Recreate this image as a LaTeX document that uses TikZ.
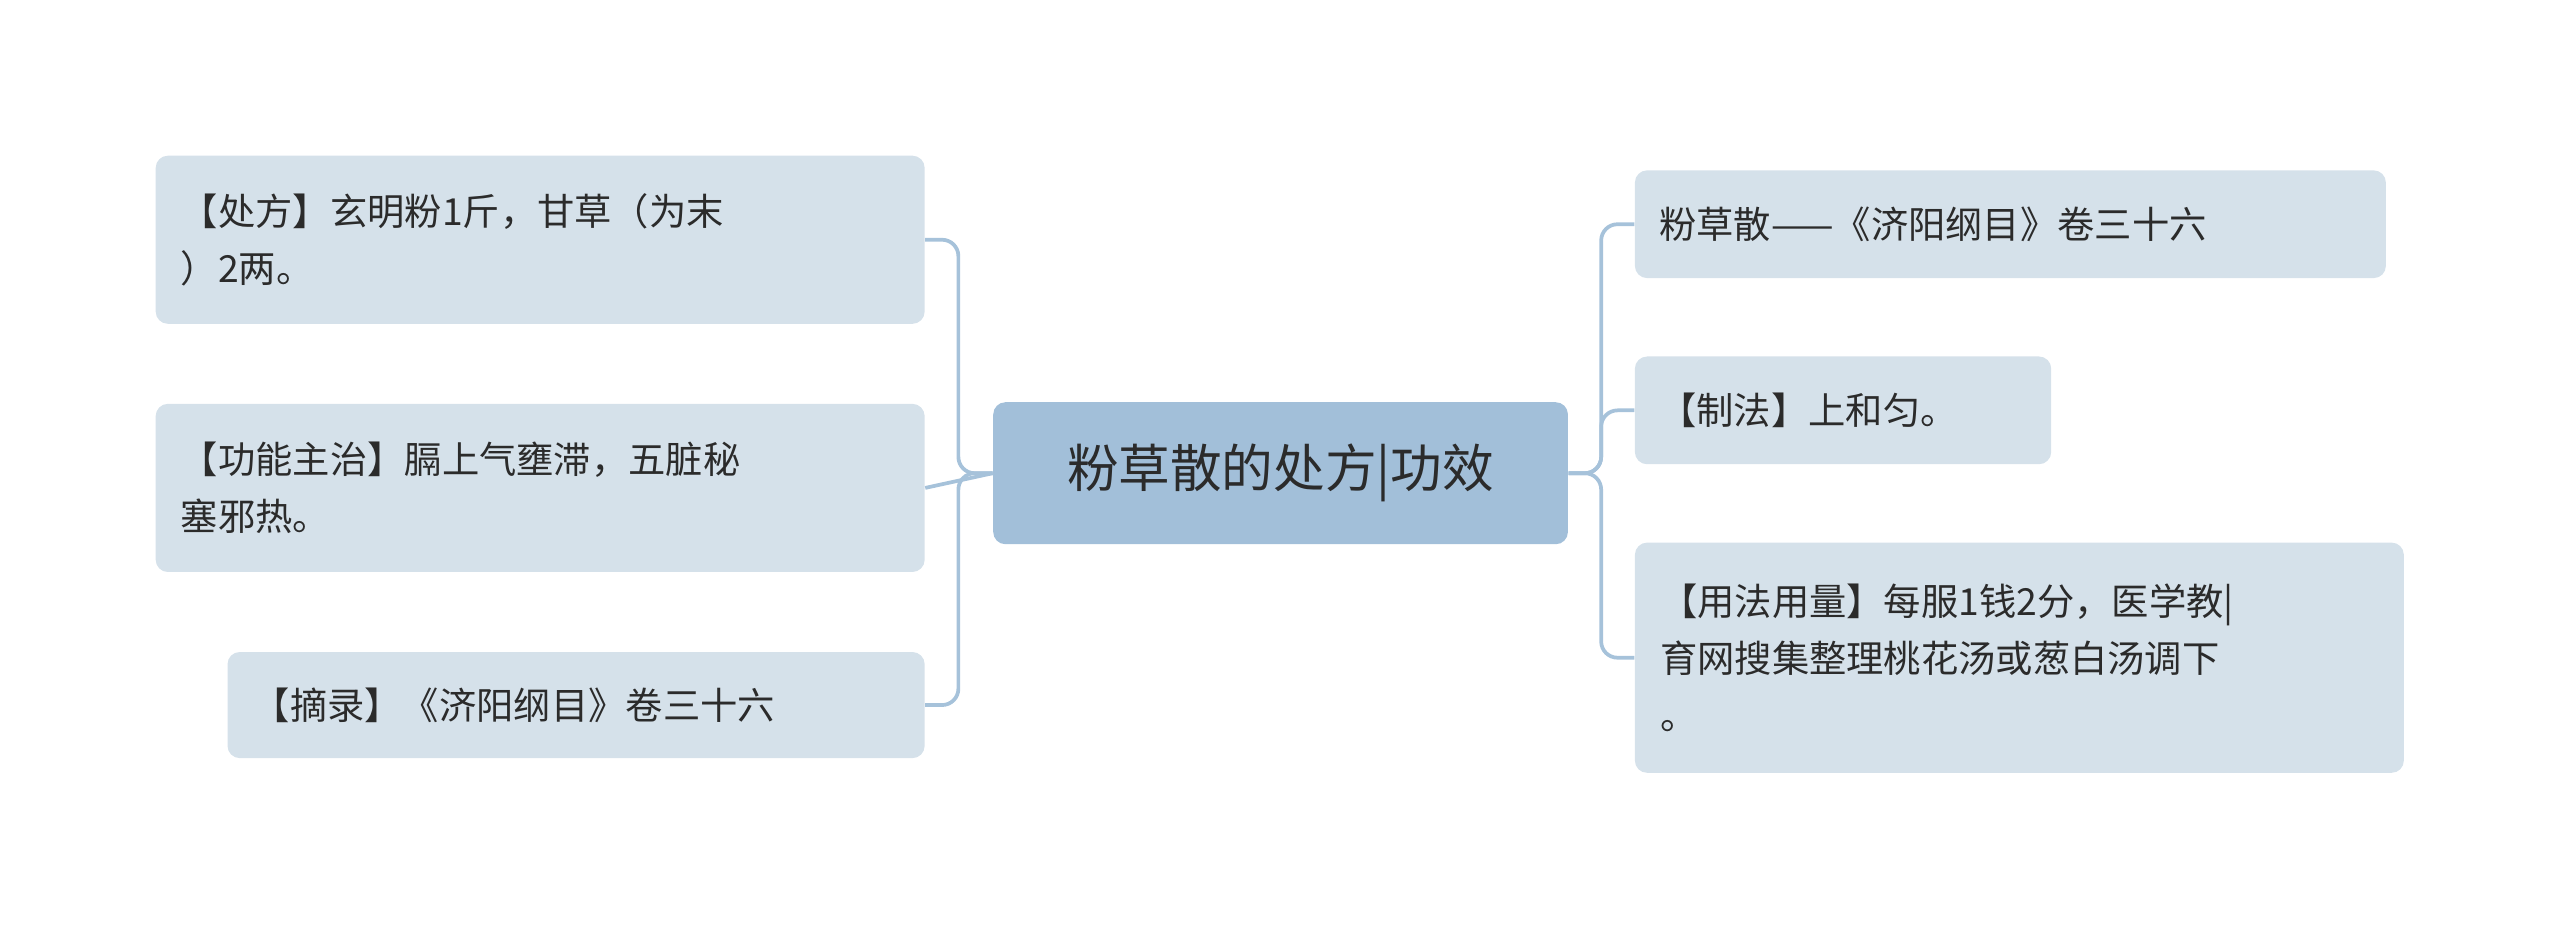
\documentclass[tikz,border=0pt]{standalone}
\usepackage{fontspec}
\newfontfamily\cjk{Noto Sans CJK SC}
\usetikzlibrary{positioning}
\definecolor{leaffill}{HTML}{D5E1EA}
\definecolor{rootfill}{HTML}{A2BFD9}
\definecolor{linkcol}{HTML}{A6C2DA}
\definecolor{txtcol}{HTML}{2B2B2B}
\tikzset{
  leaf/.style={fill=leaffill,rounded corners=0.15cm,anchor=north west,align=left,
    inner sep=0pt,text=txtcol,font=\cjk\fontsize{13}{20}\selectfont},
  root/.style={fill=rootfill,rounded corners=0.15cm,anchor=north west,
    inner sep=0pt,text=txtcol,font=\cjk\fontsize{18}{22}\selectfont},
  link/.style={draw=linkcol,line width=1.3pt,rounded corners=0.2cm}
}
\begin{document}
\begin{tikzpicture}[x=0.02cm,y=0.02cm]
    \useasboundingbox (0,0) rectangle (1568,-570);
    % centre
    \node[root,minimum width=352*0.02cm,minimum height=87*0.02cm] (c) at (608,-246) {粉草散的处方|功效};
    % left side
    \node[leaf,minimum width=471*0.02cm,minimum height=103*0.02cm,text width=440*0.02cm] (l1) at (95,-95) {【处方】玄明粉1斤，甘草（为末\\）2两。};
    \node[leaf,minimum width=471*0.02cm,minimum height=103*0.02cm,text width=440*0.02cm] (l2) at (95,-247) {【功能主治】膈上气壅滞，五脏秘\\塞邪热。};
    \node[leaf,minimum width=427*0.02cm,minimum height=65*0.02cm,text width=396*0.02cm] (l3) at (139,-399) {【摘录】《济阳纲目》卷三十六};
    % right side
    \node[leaf,minimum width=460*0.02cm,minimum height=66*0.02cm,text width=430*0.02cm] (r1) at (1001,-104) {粉草散——《济阳纲目》卷三十六};
    \node[leaf,minimum width=255*0.02cm,minimum height=66*0.02cm,text width=225*0.02cm] (r2) at (1001,-218) {【制法】上和匀。};
    \node[leaf,minimum width=471*0.02cm,minimum height=141*0.02cm,text width=440*0.02cm] (r3) at (1001,-332) {【用法用量】每服1钱2分，医学教|\\育网搜集整理桃花汤或葱白汤调下\\。};
    % connectors
    \draw[link] (c.west) -- ++(-21,0) |- (l1.east);
    \draw[link] (c.west) -- (l2.east);
    \draw[link] (c.west) -- ++(-21,0) |- (l3.east);
    \draw[link] (c.east) -- ++(20,0) |- (r1.west);
    \draw[link] (c.east) -- ++(20,0) |- (r2.west);
    \draw[link] (c.east) -- ++(20,0) |- (r3.west);
\end{tikzpicture}
\end{document}
